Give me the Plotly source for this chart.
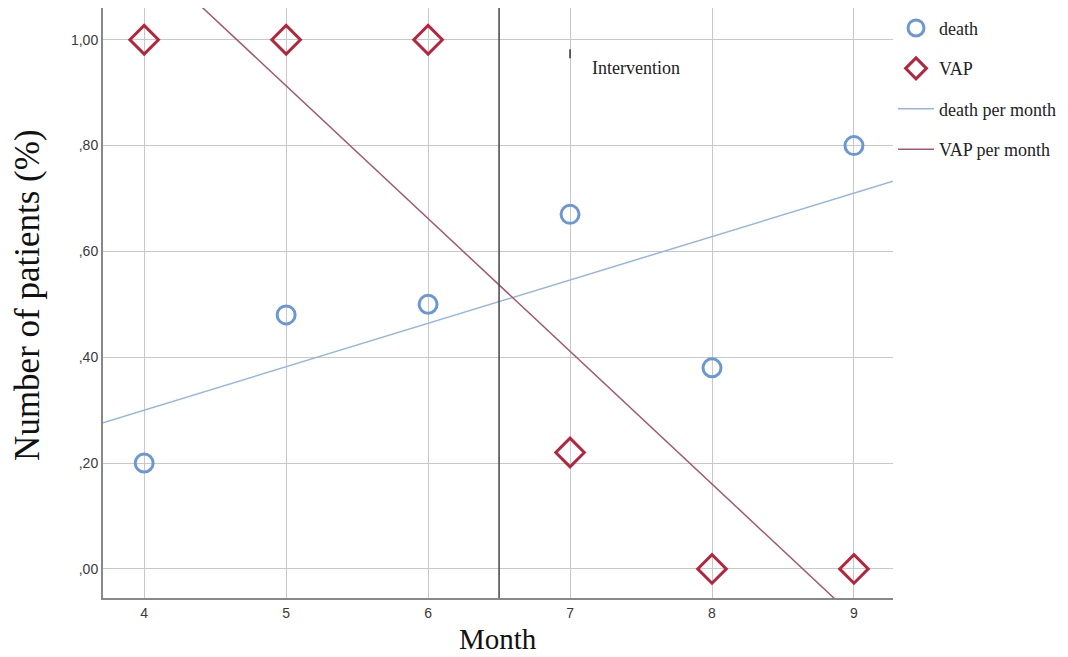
import numpy as np
import plotly.graph_objects as go

months = [4, 5, 6, 7, 8, 9]
death = [0.20, 0.48, 0.50, 0.67, 0.38, 0.80]
vap = [1.00, 1.00, 1.00, 0.22, 0.00, 0.00]
y_ticks = [0.0, 0.2, 0.4, 0.6, 0.8, 1.0]
y_tick_labels = [",00", ",20", ",40", ",60", ",80", "1,00"]
intervention_month = 6.5

x_range = [3.71, 9.275]
y_range = [-0.055, 1.06]

d_fit = np.polyfit(months, death, 1)
v_fit = np.polyfit(months, vap, 1)
xl = np.array(x_range)

serif = "Liberation Serif, Times New Roman, serif"
sans = "Liberation Sans, Arial, sans-serif"

fig = go.Figure()
fig.add_trace(go.Scatter(x=months, y=death, mode="markers", name="death",
                         legendgroup="a",
                         marker=dict(symbol="circle-open", size=18,
                                     line=dict(width=3, color="#6b98d4"), color="#6b98d4")))
fig.add_trace(go.Scatter(x=months, y=vap, mode="markers", name="VAP",
                         legendgroup="b",
                         marker=dict(symbol="diamond-open", size=22,
                                     line=dict(width=3, color="#b3263e"), color="#b3263e")))
fig.add_trace(go.Scatter(x=xl, y=np.polyval(d_fit, xl), mode="lines", name="death per month",
                         legendgroup="c", line=dict(color="#97b6dc", width=1.5)))
fig.add_trace(go.Scatter(x=xl, y=np.polyval(v_fit, xl), mode="lines", name="VAP per month",
                         legendgroup="d", line=dict(color="#a45870", width=1.5)))

fig.add_shape(type="line", x0=intervention_month, x1=intervention_month, y0=0, y1=1,
              xref="x", yref="paper", line=dict(color="#444444", width=1.5))
fig.add_shape(type="line", x0=7.0, x1=7.0, y0=0.965, y1=0.982,
              xref="x", yref="y", line=dict(color="#333333", width=1.5))
fig.add_annotation(x=7.14, y=0.947, xref="x", yref="y", text="Intervention",
                   showarrow=False, xanchor="left", font=dict(family=serif, size=18, color="#222"))

fig.add_annotation(x=0.5, xref="paper", y=-0.07, yref="paper", yanchor="middle",
                   text="Month", showarrow=False,
                   font=dict(family=serif, size=29, color="#111"))
fig.add_annotation(x=-0.0955, xref="paper", y=0.513, yref="paper", xanchor="center",
                   text="Number of patients (%)", textangle=-90, showarrow=False,
                   font=dict(family=serif, size=35, color="#111"))

fig.update_layout(
    width=1060, height=649,
    margin=dict(l=95, r=175, t=0, b=59, autoexpand=False),
    paper_bgcolor="white", plot_bgcolor="white",
    showlegend=True,
    legend=dict(x=1.0, y=0.997, xanchor="left", yanchor="top",
                font=dict(family=serif, size=18, color="#222"),
                traceorder="grouped", tracegroupgap=14, itemwidth=36,
                bgcolor="rgba(0,0,0,0)"),
    xaxis=dict(range=x_range, tickvals=months, ticktext=[str(m) for m in months],
               showgrid=True, gridcolor="#c8c8c8", gridwidth=1,
               showline=True, linecolor="#888888", linewidth=2, zeroline=False,
               ticks="outside", ticklen=1, tickcolor="rgba(0,0,0,0)",
               tickfont=dict(family=sans, size=14, color="#3a3a3a")),
    yaxis=dict(range=y_range, tickvals=y_ticks, ticktext=y_tick_labels,
               showgrid=True, gridcolor="#c8c8c8", gridwidth=1,
               showline=True, linecolor="#888888", linewidth=2, zeroline=False,
               ticks="", tickfont=dict(family=sans, size=14, color="#3a3a3a")),
)

fig.write_html("out.html")
